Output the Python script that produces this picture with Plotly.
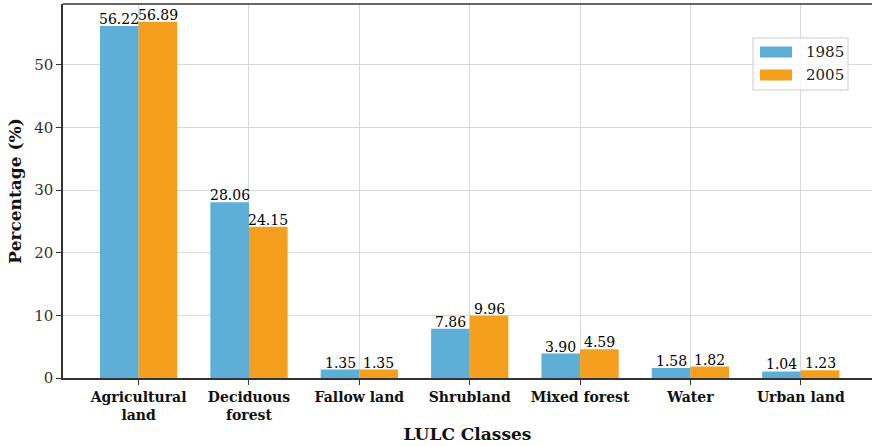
import plotly.graph_objects as go

# Land use / land cover shares for two survey years
categories = ["Agricultural<br>land", "Deciduous<br>forest", "Fallow land", "Shrubland",
              "Mixed forest", "Water", "Urban land"]
years = ["1985", "2005"]
pct_1985 = [56.22, 28.06, 1.35, 7.86, 3.90, 1.58, 1.04]
pct_2005 = [56.89, 24.15, 1.35, 9.96, 4.59, 1.82, 1.23]
colors = ["#5DAFD8", "#F4A01E"]

W, H = 872, 446
L, R, T, B = 63, 0, 4, 68
FONT = "DejaVu Serif"

x_idx = list(range(len(categories)))
fig = go.Figure()
for name, vals, col, off in zip(years, [pct_1985, pct_2005], colors, [-0.175, 0.175]):
    fig.add_trace(go.Bar(
        x=x_idx, y=vals, name=name, width=0.35, offset=off - 0.175,
        marker=dict(color=col, line=dict(width=0)), showlegend=False,
    ))
    # value labels sitting directly on top of each bar
    for xi, v in zip(x_idx, vals):
        fig.add_annotation(x=xi + off, y=v, text=f"{v:.2f}", showarrow=False,
                           xanchor="center", yanchor="bottom", yshift=-3,
                           font=dict(family=FONT, size=14, color="#000"))

fig.update_layout(
    width=W, height=H,
    margin=dict(l=L, r=R, t=T, b=B),
    paper_bgcolor="white", plot_bgcolor="white",
    font=dict(family=FONT, color="#222"),
    barmode="overlay",
    xaxis=dict(
        range=[-0.685, 6.645], tickmode="array", tickvals=x_idx, ticktext=categories,
        tickfont=dict(family=FONT, size=14, color="#111", weight="bold"),
        showgrid=True, gridcolor="#d9d9d9", gridwidth=1,
        ticks="outside", ticklen=5, tickcolor="#333", tickwidth=1.2,
        showline=True, linecolor="#333", linewidth=1.5, zeroline=False,
        title=dict(text="<b>LULC Classes</b>", font=dict(family=FONT, size=17, color="#111"),
                   standoff=6),
    ),
    yaxis=dict(
        range=[0, 59.73], tickvals=[0, 10, 20, 30, 40, 50],
        tickfont=dict(family=FONT, size=15, color="#333"),
        showgrid=True, gridcolor="#d9d9d9", gridwidth=1,
        ticks="outside", ticklen=5, tickcolor="#333", tickwidth=1.2,
        showline=True, linecolor="#333", linewidth=1.5, zeroline=False,
        title=dict(text="<b>Percentage (%)</b>", font=dict(family=FONT, size=17, color="#111"),
                   standoff=8),
    ),
)

# top frame line (right side of the frame falls outside the canvas)
fig.add_shape(type="line", xref="paper", yref="paper", x0=0, x1=1, y0=1, y1=1,
              line=dict(color="#333", width=1.5))

# legend box drawn with shapes so the swatches are wide rectangles
pw, ph = W - L - R, H - T - B
def px(xp):
    return (xp - L) / pw
def py(yp):
    return (H - B - yp) / ph

fig.add_shape(type="rect", xref="paper", yref="paper",
              x0=px(753), x1=px(848), y0=py(90), y1=py(38),
              fillcolor="rgba(255,255,255,0.8)", line=dict(color="#cccccc", width=1))
for i, (name, col) in enumerate(zip(years, colors)):
    yc = 52 + i * 23
    fig.add_shape(type="rect", xref="paper", yref="paper",
                  x0=px(760), x1=px(792), y0=py(yc + 5.5), y1=py(yc - 5.5),
                  fillcolor=col, line=dict(width=0))
    fig.add_annotation(xref="paper", yref="paper", x=px(804), y=py(yc),
                       text=name, showarrow=False, xanchor="left", yanchor="middle",
                       font=dict(family=FONT, size=15, color="#222"))

fig.write_html("out.html")
